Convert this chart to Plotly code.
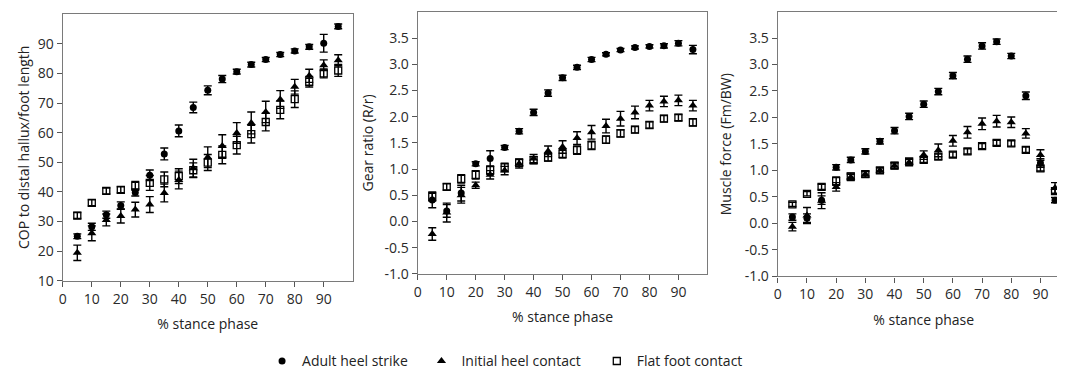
import plotly.graph_objects as go

stance = [5, 10, 15, 20, 25, 30, 35, 40, 45, 50, 55, 60, 65, 70, 75, 80, 85, 90, 95]
series_names = ["Adult heel strike", "Initial heel contact", "Flat foot contact"]

# Panel 1: COP to distal hallux / foot length
cop_adult = [25.0, 28.2, 32.3, 35.4, 39.8, 45.6, 52.8, 60.6, 68.5, 74.3, 78.1, 80.6, 83.0, 84.7, 86.4, 87.6, 89.0, 90.2, 95.9]
cop_adult_err = [0.8, 1.2, 1.2, 1.2, 1.2, 1.8, 2.0, 2.0, 1.8, 1.5, 1.2, 0.8, 0.8, 0.7, 0.7, 0.7, 0.8, 3.0, 0.8]
cop_initial = [19.4, 26.0, 30.5, 31.8, 34.0, 35.7, 39.6, 44.0, 48.0, 51.7, 55.5, 59.9, 63.3, 67.0, 71.2, 75.5, 79.2, 82.8, 84.5]
cop_initial_err = [2.6, 2.5, 2.0, 2.3, 2.5, 2.7, 3.0, 3.0, 3.0, 3.5, 3.8, 3.5, 3.7, 3.6, 3.0, 2.5, 2.2, 1.8, 1.8]
cop_flat = [32.0, 36.3, 40.3, 40.7, 42.0, 43.0, 44.2, 45.3, 47.3, 49.9, 52.5, 55.8, 59.5, 63.6, 67.7, 71.3, 77.2, 80.0, 81.0]
cop_flat_err = [1.0, 1.0, 1.0, 1.0, 1.5, 2.5, 2.5, 2.5, 2.5, 2.7, 3.0, 3.0, 3.0, 3.0, 3.0, 2.8, 1.8, 1.5, 2.0]

# Panel 2: Gear ratio (R/r)
gear_adult = [0.41, 0.20, 0.54, 1.10, 1.20, 1.41, 1.72, 2.08, 2.45, 2.74, 2.94, 3.09, 3.19, 3.27, 3.32, 3.34, 3.35, 3.40, 3.28]
gear_adult_err = [0.15, 0.12, 0.15, 0.04, 0.15, 0.04, 0.05, 0.06, 0.06, 0.05, 0.04, 0.04, 0.03, 0.03, 0.03, 0.03, 0.04, 0.05, 0.08]
gear_initial = [-0.24, 0.17, 0.50, 0.69, 0.89, 0.97, 1.10, 1.20, 1.34, 1.42, 1.59, 1.70, 1.82, 1.96, 2.08, 2.21, 2.29, 2.31, 2.21]
gear_initial_err = [0.12, 0.18, 0.15, 0.06, 0.08, 0.08, 0.08, 0.08, 0.10, 0.12, 0.12, 0.13, 0.13, 0.14, 0.12, 0.10, 0.10, 0.10, 0.10]
gear_flat = [0.47, 0.66, 0.81, 0.89, 0.98, 1.03, 1.12, 1.17, 1.22, 1.29, 1.36, 1.45, 1.56, 1.68, 1.75, 1.84, 1.96, 1.98, 1.89]
gear_flat_err = [0.08, 0.06, 0.08, 0.08, 0.08, 0.08, 0.07, 0.07, 0.07, 0.08, 0.08, 0.08, 0.07, 0.07, 0.06, 0.06, 0.06, 0.06, 0.07]

# Panel 3: Muscle force (Fm/BW)
force_adult = [0.12, 0.10, 0.44, 1.06, 1.20, 1.36, 1.55, 1.75, 2.02, 2.25, 2.49, 2.79, 3.10, 3.35, 3.43, 3.16, 2.41, 1.14, 0.44]
force_adult_err = [0.06, 0.08, 0.08, 0.05, 0.05, 0.05, 0.05, 0.06, 0.06, 0.06, 0.06, 0.06, 0.06, 0.06, 0.05, 0.05, 0.07, 0.08, 0.05]
force_initial = [-0.06, 0.15, 0.43, 0.69, 0.87, 0.93, 1.00, 1.09, 1.15, 1.29, 1.38, 1.56, 1.72, 1.88, 1.93, 1.91, 1.70, 1.29, 0.67]
force_initial_err = [0.08, 0.15, 0.15, 0.08, 0.06, 0.06, 0.05, 0.06, 0.06, 0.08, 0.12, 0.10, 0.11, 0.11, 0.11, 0.10, 0.09, 0.10, 0.10]
force_flat = [0.36, 0.56, 0.69, 0.80, 0.89, 0.93, 1.00, 1.09, 1.17, 1.20, 1.26, 1.30, 1.36, 1.46, 1.52, 1.51, 1.39, 1.04, 0.61]
force_flat_err = [0.04, 0.04, 0.05, 0.08, 0.06, 0.05, 0.05, 0.05, 0.05, 0.05, 0.05, 0.05, 0.05, 0.05, 0.05, 0.05, 0.05, 0.05, 0.05]

y_titles = ["COP to distal hallux/foot length", "Gear ratio (R/r)", "Muscle force (Fm/BW)"]
x_title = "% stance phase"
x_ticks = [0, 10, 20, 30, 40, 50, 60, 70, 80, 90]
cop_ticks = [10, 20, 30, 40, 50, 60, 70, 80, 90]
ratio_ticks = [-1.0, -0.5, 0.0, 0.5, 1.0, 1.5, 2.0, 2.5, 3.0, 3.5]

panels = [
    [(cop_adult, cop_adult_err), (cop_initial, cop_initial_err), (cop_flat, cop_flat_err)],
    [(gear_adult, gear_adult_err), (gear_initial, gear_initial_err), (gear_flat, gear_flat_err)],
    [(force_adult, force_adult_err), (force_initial, force_initial_err), (force_flat, force_flat_err)],
]

W, H = 1065, 378
FONT = "Open Sans"
symbols = [
    dict(symbol="circle", size=7, color="black"),
    dict(symbol="triangle-up", size=8, color="black"),
    dict(symbol="square-open", size=7, color="black", line=dict(width=1.3, color="black")),
]
legend_ids = ["legend", "legend2", "legend3"]

fig = go.Figure()
for p, series in enumerate(panels):
    xa = "x" if p == 0 else f"x{p+1}"
    ya = "y" if p == 0 else f"y{p+1}"
    for s, (vals, errs) in enumerate(series):
        fig.add_trace(go.Scatter(
            x=stance, y=vals, mode="markers", name=series_names[s],
            xaxis=xa, yaxis=ya,
            marker=symbols[s],
            error_y=dict(type="data", array=errs, visible=True, color="black", thickness=1.4, width=4),
            showlegend=(p == 0), legend=legend_ids[s],
        ))

# pixel geometry of the panels (left, right, top, bottom)
boxes = [(51, 342, 6.4, 279.3), (407.3, 698, 3.9, 272.3), (768.7, 1061.6, 3.6, 275)]
yranges = [[10, 100], [-1, 4], [-1, 4]]
ytickvals = [cop_ticks, ratio_ticks, ratio_ticks]
yticktext = [[str(v) for v in cop_ticks], [f"{v:.1f}" for v in ratio_ticks], [f"{v:.1f}" for v in ratio_ticks]]
ytitle_x = [0, 357, 717]
ytitle_anchor = ["left", "center", "center"]

axis_common = dict(showgrid=False, zeroline=False, showline=True, linecolor="#7a7a7a", linewidth=1.3,
                   mirror=True, ticks="outside", ticklen=5, tickwidth=1, tickcolor="#555",
                   tickfont=dict(family=FONT, size=14, color="#2a2a2a"))
layout = {}
annotations = []
for p in range(3):
    l, r, t, b = boxes[p]
    xk = "xaxis" if p == 0 else f"xaxis{p+1}"
    yk = "yaxis" if p == 0 else f"yaxis{p+1}"
    layout[xk] = dict(axis_common, domain=[l / W, r / W], range=[0, 100], tickvals=x_ticks,
                      anchor="y" if p == 0 else f"y{p+1}",
                      title=dict(text=x_title, font=dict(family=FONT, size=14, color="#222"), standoff=12))
    layout[yk] = dict(axis_common, domain=[(H - b) / H, (H - t) / H], range=yranges[p],
                      tickvals=ytickvals[p], ticktext=yticktext[p], anchor="x" if p == 0 else f"x{p+1}")
    annotations.append(dict(text=y_titles[p], textangle=-90, xref="paper", yref="paper",
                            x=ytitle_x[p] / W, y=(H - (t + b) / 2) / H, xanchor=ytitle_anchor[p],
                            yanchor="middle", showarrow=False, font=dict(family=FONT, size=14, color="#222")))

legend_left = [251, 411, 587]
for i, lid in enumerate(legend_ids):
    layout[lid] = dict(x=legend_left[i] / W, y=(H - 362) / H, xanchor="left", yanchor="middle",
                       orientation="h", font=dict(family=FONT, size=14, color="#222"),
                       bgcolor="rgba(0,0,0,0)", itemwidth=30)

fig.update_layout(width=W, height=H, margin=dict(l=0, r=0, t=0, b=0),
                  plot_bgcolor="white", paper_bgcolor="white", annotations=annotations, **layout)

fig.write_html("out.html")
